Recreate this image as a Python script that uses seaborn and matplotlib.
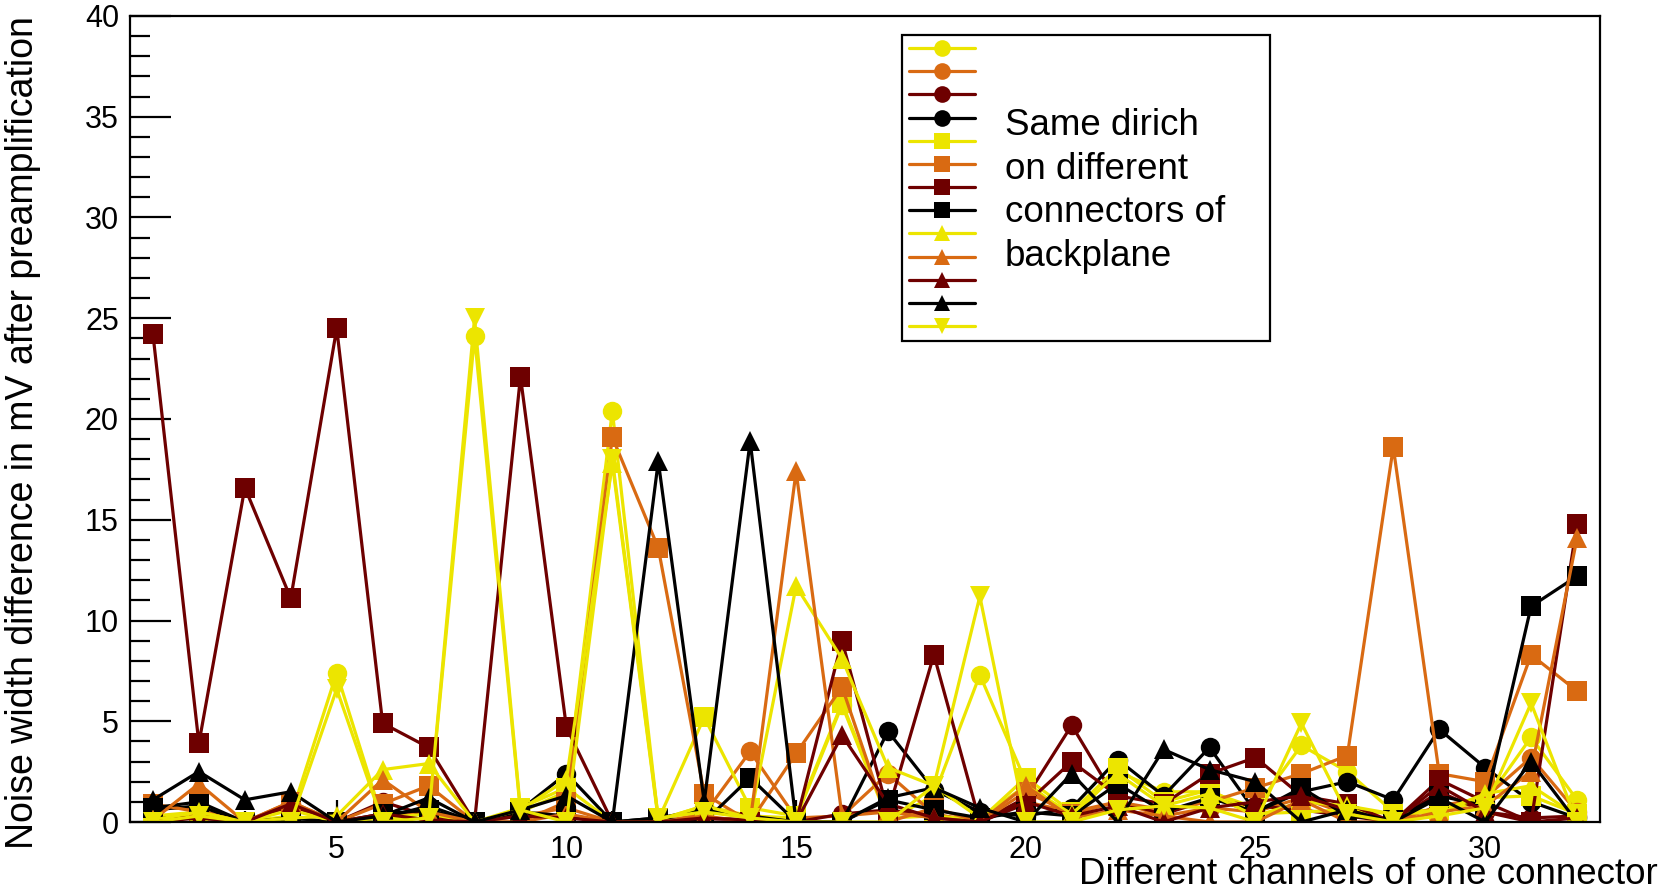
import numpy as np
import pandas as pd
import matplotlib
matplotlib.use("Agg")
import matplotlib.pyplot as plt
from matplotlib.lines import Line2D
from matplotlib.ticker import MultipleLocator
import seaborn as sns

# Channel numbers of one connector
channels = list(range(1, 33))

# Noise width differences (mV) per dirich, one series per marker/colour combination
circle_yellow = [0.2, 0.4, 0.0, 0.3, 7.4, 0.1, 0.2, 24.1, 0.5, 1.5, 20.4, 0.1, 0.8, 0.3, 0.2, 5.8,
                 0.1, 1.3, 7.3, 2.0, 0.2, 2.5, 1.5, 1.5, 0.7, 3.8, 2.5, 0.5, 0.6, 1.0, 4.2, 1.1]
circle_orange = [0.8, 0.6, 0.0, 0.9, 0.0, 0.3, 0.5, 0.0, 0.3, 0.7, 0.0, 0.0, 0.4, 3.5, 0.2, 0.3,
                 2.4, 0.4, 0.0, 1.0, 0.5, 1.0, 0.3, 0.7, 0.5, 1.2, 0.4, 0.0, 0.8, 1.2, 3.2, 0.5]
circle_darkred = [0.3, 0.2, 0.0, 0.8, 0.0, 1.0, 0.3, 0.0, 0.4, 0.3, 0.0, 0.0, 0.2, 0.1, 0.0, 0.4,
                  0.6, 0.3, 0.0, 1.2, 4.8, 1.0, 0.4, 1.1, 0.8, 0.6, 0.3, 0.0, 1.5, 0.5, 0.2, 0.3]
circle_black = [0.6, 0.8, 0.0, 0.2, 0.0, 0.2, 0.8, 0.0, 0.6, 2.4, 0.0, 0.2, 0.6, 0.3, 0.0, 0.0,
                4.5, 1.6, 0.5, 0.3, 0.7, 3.1, 1.3, 3.7, 0.5, 1.5, 2.0, 1.1, 4.6, 2.7, 1.0, 0.2]
square_yellow = [0.3, 0.5, 0.0, 0.6, 0.0, 0.2, 0.4, 0.0, 0.7, 1.7, 0.0, 0.1, 5.2, 0.7, 0.3, 5.9,
                 0.2, 0.3, 0.1, 2.2, 0.5, 2.7, 1.0, 1.6, 0.4, 0.5, 0.6, 0.4, 0.6, 1.2, 1.3, 0.4]
square_orange = [0.9, 0.5, 0.0, 1.0, 0.0, 0.9, 1.8, 0.0, 0.0, 1.0, 19.1, 13.6, 1.4, 0.0, 3.4, 6.7,
                 0.0, 0.7, 0.0, 1.5, 0.4, 1.0, 0.6, 1.0, 1.7, 2.4, 3.3, 18.6, 2.4, 2.0, 8.3, 6.5]
square_darkred = [24.2, 3.9, 16.6, 11.1, 24.5, 4.9, 3.7, 0.0, 22.1, 4.7, 0.0, 0.0, 0.0, 0.0, 0.0, 9.0,
                  0.5, 8.3, 0.0, 0.9, 3.0, 1.3, 0.9, 2.4, 3.2, 1.3, 0.9, 0.0, 2.1, 1.0, 0.0, 14.8]
square_black = [0.7, 1.0, 0.0, 0.0, 0.0, 0.4, 0.6, 0.0, 0.5, 0.3, 0.0, 0.2, 0.0, 2.2, 0.0, 0.0,
                1.1, 0.6, 0.2, 0.5, 0.3, 1.9, 0.5, 1.2, 0.5, 1.7, 0.3, 0.1, 1.3, 0.8, 10.7, 12.2]
triangle_yellow = [0.1, 0.5, 0.0, 0.2, 0.3, 2.6, 2.9, 0.0, 0.6, 2.1, 17.8, 0.1, 0.8, 0.2, 11.7, 8.1,
                   2.7, 1.8, 0.2, 1.8, 0.4, 2.4, 0.8, 1.4, 0.3, 1.0, 0.8, 0.4, 0.5, 1.4, 1.8, 0.3]
triangle_orange = [0.1, 1.9, 0.0, 1.0, 0.0, 2.1, 0.5, 0.0, 0.0, 0.4, 0.0, 0.0, 0.3, 0.0, 17.4, 0.3,
                   0.5, 0.2, 0.0, 1.8, 0.2, 0.6, 0.3, 0.0, 0.0, 1.1, 0.0, 0.0, 0.5, 0.8, 2.5, 14.1]
triangle_darkred = [0.0, 0.2, 0.0, 0.9, 0.0, 0.4, 0.1, 0.0, 0.3, 0.2, 0.0, 0.0, 0.2, 0.1, 0.0, 4.3,
                    0.9, 0.2, 0.0, 1.0, 0.3, 0.8, 0.0, 0.7, 1.0, 1.3, 0.6, 0.0, 1.8, 0.5, 0.0, 0.2]
triangle_black = [1.1, 2.5, 1.1, 1.5, 0.0, 0.3, 1.2, 0.0, 0.6, 1.3, 0.0, 17.9, 1.0, 18.9, 0.0, 0.0,
                  1.2, 1.7, 0.7, 0.0, 2.4, 0.0, 3.6, 2.6, 2.0, 0.0, 0.6, 0.0, 1.2, 0.0, 3.0, 0.0]
tridown_yellow = [0.0, 0.3, 0.0, 0.0, 6.6, 0.0, 0.2, 25.0, 0.6, 0.0, 18.0, 0.2, 0.5, 0.2, 0.0, 0.0,
                  0.0, 1.8, 11.2, 0.0, 0.0, 0.6, 0.8, 0.7, 0.0, 4.9, 0.4, 0.0, 0.3, 0.7, 5.9, 0.0]

YELLOW = "#ECE500"
ORANGE = "#D96A12"
DARKRED = "#6E0000"
BLACK = "#000000"

series = [
    ("c_y", circle_yellow, YELLOW, "o"),
    ("c_o", circle_orange, ORANGE, "o"),
    ("c_r", circle_darkred, DARKRED, "o"),
    ("c_k", circle_black, BLACK, "o"),
    ("s_y", square_yellow, YELLOW, "s"),
    ("s_o", square_orange, ORANGE, "s"),
    ("s_r", square_darkred, DARKRED, "s"),
    ("s_k", square_black, BLACK, "s"),
    ("t_y", triangle_yellow, YELLOW, "^"),
    ("t_o", triangle_orange, ORANGE, "^"),
    ("t_r", triangle_darkred, DARKRED, "^"),
    ("t_k", triangle_black, BLACK, "^"),
    ("d_y", tridown_yellow, YELLOW, "v"),
]

df = pd.concat(
    [pd.DataFrame({"channel": channels, "value": vals, "series": name})
     for name, vals, _, _ in series],
    ignore_index=True,
)
order = [s[0] for s in series]
palette = {s[0]: s[2] for s in series}
markers = {s[0]: s[3] for s in series}

sns.set_theme(style="white")
plt.rcParams["font.family"] = ["Liberation Sans", "DejaVu Sans"]

fig = plt.figure(figsize=(16.64, 8.92), dpi=100)
ax = fig.add_axes([130 / 1664, 1 - 822 / 892, 1470 / 1664, 806 / 892])

sns.lineplot(
    data=df, x="channel", y="value", hue="series", style="series",
    hue_order=order, style_order=order, palette=palette, markers=markers,
    dashes=False, markersize=14, markeredgewidth=0, linewidth=2.3,
    legend=False, sort=False, ax=ax,
)

ax.set_xlim(0.5, 32.5)
ax.set_ylim(0, 40)
ax.set_xlabel("")
ax.set_ylabel("")

ax.xaxis.set_major_locator(MultipleLocator(5))
ax.xaxis.set_minor_locator(MultipleLocator(1))
ax.yaxis.set_major_locator(MultipleLocator(5))
ax.yaxis.set_minor_locator(MultipleLocator(1))
ax.tick_params(axis="both", which="both", direction="in", width=1.6, color="black",
               labelsize=22, labelcolor="black", top=False, right=False,
               bottom=True, left=True)
ax.tick_params(axis="y", which="major", length=29.5, pad=8)
ax.tick_params(axis="y", which="minor", length=14.5)
ax.tick_params(axis="x", which="major", length=16, pad=9)
ax.tick_params(axis="x", which="minor", length=8)
for sp in ax.spines.values():
    sp.set_visible(True)
    sp.set_color("black")
    sp.set_linewidth(1.6)
ax.grid(False)

# Legend: marker/colour key only, the description is written beside it
handles = [Line2D([0], [0], color=c, marker=m, markersize=12, markeredgewidth=0, linewidth=2.3)
           for _, _, c, m in series]
leg = ax.legend(
    handles, [""] * len(handles), loc="upper left",
    bbox_to_anchor=(0.525, 0.9764, 0.2505, 0.0), mode="expand",
    fontsize=10, labelspacing=0.66, handlelength=4.8, handletextpad=0.3,
    borderpad=0.5, borderaxespad=0.0, fancybox=False, framealpha=1,
    edgecolor="black",
)
leg.get_frame().set_linewidth(1.6)

fig.text(1005 / 1664, 1 - 191 / 892,
         "Same dirich\non different\nconnectors of\nbackplane",
         ha="left", va="center", fontsize=26.5, linespacing=1.33, color="black")

fig.text(23 / 1664, 1 - 433 / 892, "Noise width difference in mV after preamplification",
         rotation=90, ha="center", va="center", fontsize=27, color="black")
fig.text(1658 / 1664, 1 - 875 / 892, "Different channels of one connector",
         ha="right", va="center", fontsize=26.5, color="black")

fig.savefig("out.png", dpi=100, facecolor="white")
